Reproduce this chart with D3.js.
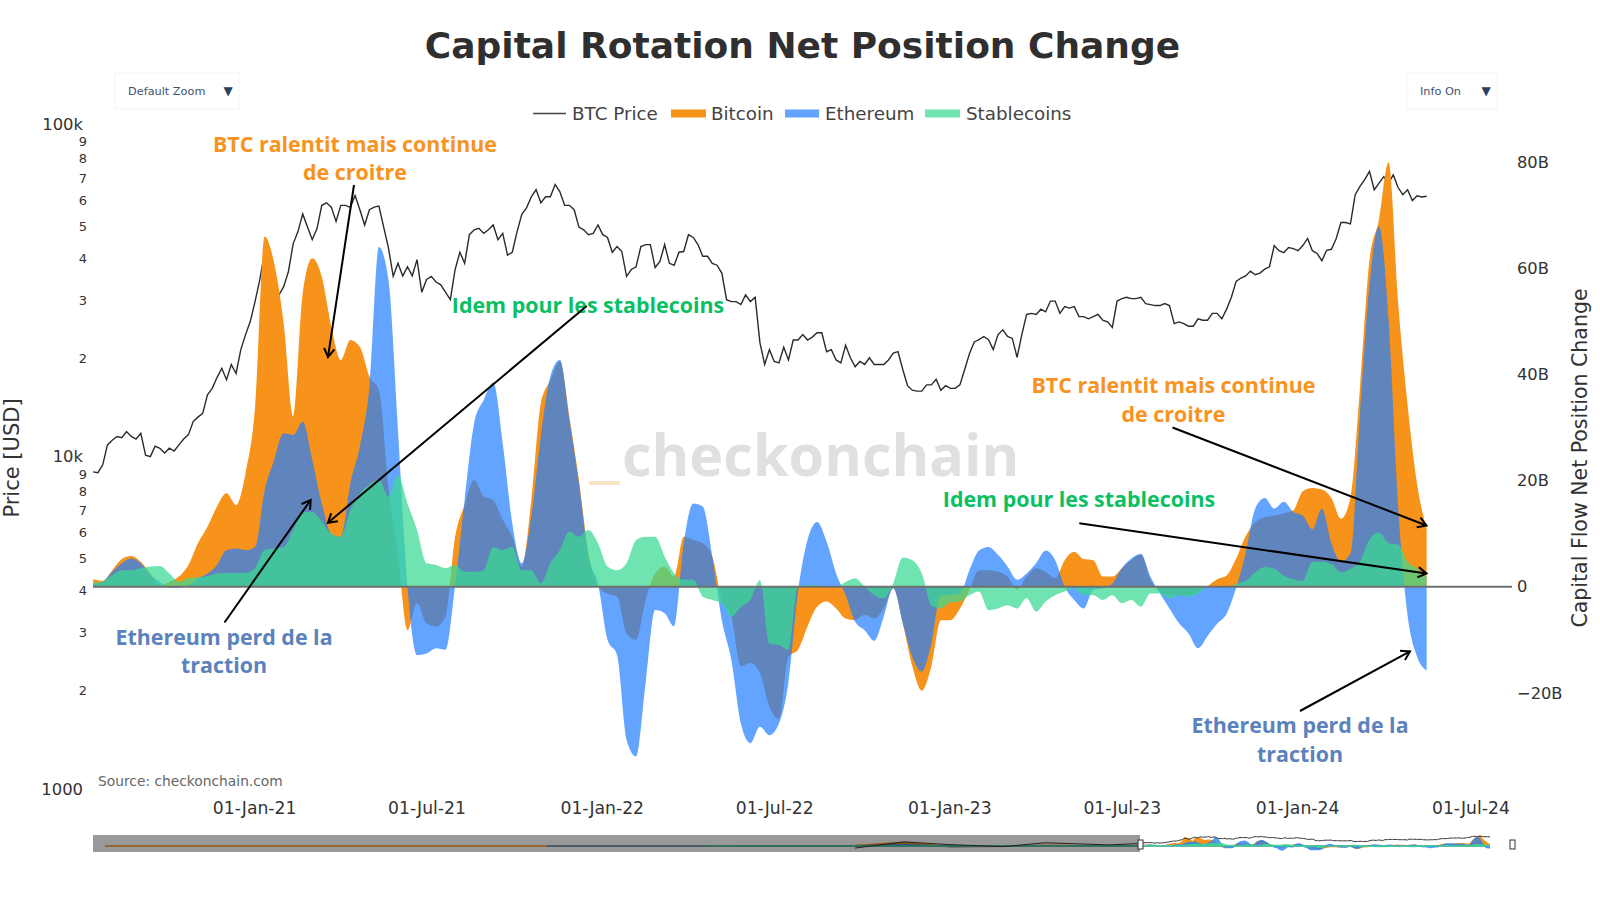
<!DOCTYPE html>
<html>
<head>
<meta charset="utf-8">
<script src="https://cdn.jsdelivr.net/npm/d3@7"></script>
<style>
  body { margin: 0; background: #fff; }
  text { font-family: "DejaVu Sans", sans-serif; }
  .note { font-family: "Open Sans", sans-serif; font-weight: 700; font-size: 21.4px; text-anchor: middle; }
</style>
</head>
<body>
<script>
// BTC price in USD, one value every 5 days from the start date
const priceValues = [
  9000,8950,9450,10850,11200,11500,11400,11900,11500,11300,
  11750,10100,10000,10750,10600,10250,10600,10400,10850,11300,
  11650,12750,13150,13500,15350,16050,17300,18450,17050,18950,
  17800,21000,23300,25550,29350,34150,41250,38400,34150,30650,
  32500,36100,43800,47600,53800,49100,45000,48600,57100,58100,
  56400,51100,57100,57100,56300,61100,55400,49800,55400,56400,
  56800,49100,42500,34900,38200,35000,37300,35000,39200,31250,
  34150,34900,33550,32900,31250,29700,36600,41250,38200,46600,
  48200,48700,47000,48200,49850,45000,47000,40450,41250,47500,
  53650,56100,60600,63700,58100,60600,60600,66000,62700,57100,
  57100,55400,49100,48200,46600,47000,49850,46600,45700,41250,
  42900,41450,34900,36600,37300,42900,43500,43500,37100,38700,
  43500,38200,37700,41250,41450,46600,45700,43500,40100,40100,
  38200,37700,35700,29700,29300,29300,28700,30700,29300,30200,
  22050,18950,21000,19350,19150,21350,19550,22450,22450,23300,
  22450,22900,23600,23600,20700,21000,19550,19150,21650,19850,
  18650,19350,18950,19850,18950,18950,18950,19550,20500,20700,
  18300,16350,15850,15750,15750,16450,16450,17100,15850,16350,
  16050,16050,16450,18300,20400,22150,22500,23000,22500,21000,
  23300,24100,23000,22700,19900,23300,26800,27000,26800,27800,
  27300,29400,29400,27000,28300,28000,28300,26400,26400,26000,
  26400,26800,25750,25450,24500,29400,29900,30200,29900,29900,
  30200,28900,28700,28500,28500,28900,28500,25150,25450,25150,
  24700,24700,26000,25750,25750,27000,27000,26000,27800,30200,
  33700,34500,35000,36200,35300,35700,36700,37300,43200,41700,
  41100,42600,42300,41700,43200,45400,41700,40900,38900,41800,
  42100,45300,50700,50700,50200,61500,65100,68200,72300,63600,
  66600,69700,66600,70500,64600,61500,63600,59000,61000,60500,
  60800
];

// net position change in billions, one value every 10 days from the start date
const bitcoinValues = [
  1.4,1.1,3.1,5.2,5.8,4.7,2.5,0.3,0.9,1.9,
  4.1,8.2,11.3,15.1,17.6,15.4,21.4,33.9,66,61,
  49.6,32,55.3,61.9,58.4,49,42.7,46.5,45.2,39.6,
  37,18.8,5.7,-8.2,-3.1,-6.9,-7.5,-5.6,9.4,15.4,
  20.1,17,16.3,12.6,9.4,3.8,16.3,34.5,38.9,42.5,
  32,20.1,6.3,0,-1.3,-1.9,-8.8,-10,-2.5,2.5,
  3.8,1.9,9.4,8.8,8.2,5.7,-2.5,-5.7,-15,-14.4,
  -16.3,-22.6,-25,-13.2,-11.9,-7.5,-3.8,-2.8,-4.1,-6,
  -6.3,-5.3,-6,-4.1,-0.3,-6.9,-15,-19.6,-15,-6.3,
  -6.3,-4.1,-0.6,3.1,3.1,2.8,1.9,-0.6,1.9,3.5,
  2.8,1.6,5,6.6,5.2,5,1.9,1.9,3.5,5,
  6,1.3,-0.8,-1.6,-1.6,-1.6,-0.9,0.1,1.4,2.1,
  5.3,9.5,12.1,13.1,13.4,13.8,14.4,18,18.6,18.3,
  16.7,12.8,16.7,37.4,61.5,69.2,80,53.7,34.2,19.3,
  11
];
const ethereumValues = [
  0.6,0.9,2.8,4.4,5.3,4.4,2.2,0.9,-0.2,-0.2,
  0.3,1.6,2.5,4.1,6.9,7.2,6.9,7.5,18.2,23.9,
  28.9,28.6,31.1,23.9,15.7,10,9.4,19.5,26.4,37.7,
  64,57.8,29.5,0,-12.9,-12.6,-11.6,-11.9,0.3,16.3,
  30.8,35.2,38.5,27,11.9,4.4,13.2,28.3,39.6,42.7,
  31.4,19.5,5.7,0.6,-10,-12.9,-28.9,-32,-18.2,-4.4,
  -5,-7.5,8.2,15.7,15.1,5.7,-6.3,-13.8,-25.8,-29.5,
  -26.4,-28,-25.8,-18,-1,8.8,12.2,8.5,2.5,-1.6,
  -6.6,-8.2,-10.2,-5.7,-0.3,-6.9,-13.2,-16,-10.7,-1.6,
  -1.6,-1.3,3.1,6.8,7.5,6,3.8,1.3,2.5,4.4,
  6.8,5,0,-2.5,-4.1,-0.6,-0.3,0.6,3.5,5.3,
  6.2,1.9,-1.3,-4.1,-6.9,-8.8,-11.6,-9.3,-7,-5.1,
  -0.2,6.3,14.7,16.7,14.7,16,14.1,13.4,10.8,14.7,
  8.2,4.7,6.3,32.3,56.9,68,50.4,15.4,-5.4,-13.2,
  -15.8
];
const stablecoinValues = [
  0.75,0.94,2.2,3.1,3.1,3.5,3.8,3.9,2.5,0.94,
  1.6,1.8,2,2.5,2.6,2.6,2.6,3.5,6.9,7.2,
  7.5,10.7,14.1,14.1,12.3,10,9.4,14.4,17.6,19.2,
  20.1,17,21,15.7,10.7,4.4,4.1,3.5,4.1,2.8,
  2.8,3.1,7.5,6.9,7.5,3.1,3.1,0.6,4.4,6.9,
  10.4,9.4,10.7,8.2,3.8,3.1,4.4,8.8,9.4,9.4,
  5.7,2.5,1.3,1.3,-1.9,-2.5,-3.1,-5.7,-3.8,-2.5,
  1.2,-10.7,-11,-11.9,0,0.3,0.3,0,0,0.9,
  1.6,0,-1.6,-2.2,0.6,5.5,5,2.5,-3.5,-4.1,
  -3,-2.8,-1.6,-0.9,-4.4,-4.1,-3.5,-4.1,-2.2,-4.7,
  -2.8,-1.6,-0.9,-0.3,-1.6,-1.6,-2.5,-1.6,-3.1,-2.5,
  -3.8,-1.3,-1.3,-2.2,-1.6,-1.9,-1.3,0,0.1,0.1,
  0.5,1.1,2.7,3.7,3.4,2.1,1.4,1.1,4.7,4.7,
  4.3,2.7,3.4,4.7,8.9,10.2,8.2,7.9,4.7,3.4,
  1.8
];

// earlier history, only seen under the range slider mask
const historyDates = ["2009-03-15","2014-01-15","2015-10-15","2017-06-01","2017-12-15","2018-06-15","2019-01-15","2019-07-01","2020-03-15"];
const historyBitcoin = [0,0,0,4,30,-5,-3,6,1];
const historyEthereum = [null,0,0,1,12,-4,-2,1,1];
const historyStablecoin = [null,null,0,0,2,1,0,1,3];
const historyPrice = [null,null,null,2500,14000,6500,3700,11000,6000];

const xTickDates = ["2021-01-01","2021-07-01","2022-01-01","2022-07-01","2023-01-01","2023-07-01","2024-01-01","2024-07-01"];
const priceTicks = [1000,2000,3000,4000,5000,6000,7000,8000,9000,10000,20000,30000,40000,50000,60000,70000,80000,90000,100000];
const flowTicks = [-20,0,20,40,60,80];
const legendNames = ["BTC Price","Bitcoin","Ethereum","Stablecoins"];

const colorBitcoin = "rgb(247,147,26)";
const colorEthereum = "rgba(34,127,255,0.71)";
const colorStablecoin = "rgba(57,217,146,0.72)";

const parseDay = d3.utcParse("%Y-%m-%d");
const startDate = parseDay("2020-07-15");
const priceData = priceValues.map((v, i) => ({ date: d3.utcDay.offset(startDate, i * 5), value: v }));
const toSeries = values => values.map((v, i) => ({ date: d3.utcDay.offset(startDate, i * 10), value: v }));
const bitcoinData = toSeries(bitcoinValues);
const ethereumData = toSeries(ethereumValues);
const stablecoinData = toSeries(stablecoinValues);

const svg = d3.select("body").append("svg").attr("width", 1600).attr("height", 900);

const x = d3.scaleUtc().domain([parseDay("2021-01-01"), parseDay("2024-07-01")]).range([255.1, 1471.4]);
const yPrice = d3.scaleLog().domain([1000, 100000]).range([788.8, 124.5]);
const yFlow = d3.scaleLinear().domain([0, 80]).range([586.7, 162.2]);
const plotLeft = 93, plotRight = 1512;

// title
svg.append("text").attr("x", 802.5).attr("y", 58).attr("text-anchor", "middle")
  .style("font-size", "36px").style("font-weight", "700").style("fill", "#2f2f2f")
  .text("Capital Rotation Net Position Change");

// watermark
svg.append("text").attr("x", 589).attr("y", 476).style("font-family", "Open Sans").style("font-size", "57.5px").style("font-weight", "700").style("fill", "#fbe3c6").attr("textLength", 31).attr("lengthAdjust", "spacingAndGlyphs").text("_");
svg.append("text").attr("x", 622).attr("y", 476).style("font-family", "Open Sans").style("font-size", "57.5px").style("font-weight", "700").style("fill", "#e0e0e0").text("checkonchain");

// drop down buttons
function dropdown(left, right, label) {
  const g = svg.append("g");
  g.append("rect").attr("x", left).attr("y", 73).attr("width", right - left).attr("height", 36)
    .attr("fill", "#fff").attr("stroke", "#f4f4f6");
  g.append("text").attr("x", left + 13).attr("y", 94.5).style("font-size", "11.3px").style("fill", "#3f5273").text(label);
  g.append("text").attr("x", right - 11).attr("y", 94.5).attr("text-anchor", "middle").style("font-size", "12px").style("fill", "#2a3f5f").text("▼");
}
dropdown(115, 239, "Default Zoom");
dropdown(1407, 1497, "Info On");

// legend
const legendY = 113.5;
const legendSwatch = [[533, 566], [671, 706], [785, 819], [925, 960]];
const legendText = [572, 711, 825, 966];
const legendFill = ["#444", colorBitcoin, colorEthereum, colorStablecoin];
legendNames.forEach((name, i) => {
  if (i === 0) {
    svg.append("line").attr("x1", legendSwatch[i][0]).attr("x2", legendSwatch[i][1]).attr("y1", legendY).attr("y2", legendY)
      .attr("stroke", "#444").attr("stroke-width", 1.5);
  } else {
    svg.append("rect").attr("x", legendSwatch[i][0]).attr("y", legendY - 4).attr("width", legendSwatch[i][1] - legendSwatch[i][0]).attr("height", 8)
      .attr("fill", legendFill[i]);
  }
  svg.append("text").attr("x", legendText[i]).attr("y", legendY + 6.5).style("font-size", "18.3px").style("fill", "#444").text(name);
});

// price sits under the areas
const priceLine = d3.line().x(d => x(d.date)).y(d => yPrice(d.value));
svg.append("path").datum(priceData).attr("d", priceLine).attr("fill", "none").attr("stroke", "#2b2b2b").attr("stroke-width", 1.4);

const flowArea = d3.area().curve(d3.curveMonotoneX).x(d => x(d.date)).y0(yFlow(0)).y1(d => yFlow(d.value));
svg.append("path").datum(bitcoinData).attr("d", flowArea).attr("fill", colorBitcoin);
svg.append("path").datum(ethereumData).attr("d", flowArea).attr("fill", colorEthereum);
svg.append("path").datum(stablecoinData).attr("d", flowArea).attr("fill", colorStablecoin);

svg.append("line").attr("x1", plotLeft).attr("x2", plotRight).attr("y1", yFlow(0)).attr("y2", yFlow(0))
  .attr("stroke", "#6f6f6f").attr("stroke-width", 2);

// axes
const formatPrice = v => v === 100000 ? "100k" : v === 10000 ? "10k" : v === 1000 ? "1000" : String(v).charAt(0);
const isMajor = v => v === 100000 || v === 10000 || v === 1000;
const leftAxis = svg.append("g").attr("transform", `translate(${plotLeft},0)`)
  .call(d3.axisLeft(yPrice).tickValues(priceTicks).tickFormat(formatPrice).tickSize(0).tickPadding(6));
leftAxis.select(".domain").remove();
leftAxis.selectAll("text").attr("x", d => isMajor(d) ? -10 : -6).attr("y", d => isMajor(d) ? 0 : 2)
  .style("font-family", "DejaVu Sans").style("font-size", d => isMajor(d) ? "16.4px" : "13px").style("fill", "#333");

const rightAxis = svg.append("g").attr("transform", `translate(${plotRight},0)`)
  .call(d3.axisRight(yFlow).tickValues(flowTicks).tickFormat(v => v === 0 ? "0" : (v < 0 ? "−" : "") + Math.abs(v) + "B").tickSize(0).tickPadding(5));
rightAxis.select(".domain").remove();
rightAxis.selectAll("text").style("font-family", "DejaVu Sans").style("font-size", "16.3px").style("fill", "#333");

const bottomAxis = svg.append("g").attr("transform", "translate(-1,802)")
  .call(d3.axisBottom(x).tickValues(xTickDates.map(parseDay)).tickFormat(d3.utcFormat("%d-%b-%y")).tickSize(0).tickPadding(0));
bottomAxis.select(".domain").remove();
bottomAxis.selectAll("text").style("font-family", "DejaVu Sans").style("font-size", "17.2px").style("fill", "#333");

svg.append("text").attr("transform", "translate(19,458) rotate(-90)").attr("text-anchor", "middle")
  .style("font-size", "21px").style("fill", "#333").text("Price [USD]");
svg.append("text").attr("transform", "translate(1587,458) rotate(-90)").attr("text-anchor", "middle")
  .style("font-size", "20.5px").style("fill", "#333").text("Capital Flow Net Position Change");
svg.append("text").attr("x", 98).attr("y", 786).style("font-size", "13.8px").style("fill", "#666").text("Source: checkonchain.com");

// range slider
const sliderX = d3.scaleUtc().domain([startDate, d3.utcDay.offset(startDate, 1400)]).range([1140, 1490]);
const sliderFlow = d3.scaleLinear().domain([0, 80]).range([846, 836]);
const sliderPrice = d3.scaleLog().domain([9000, 65000]).range([843.5, 836.5]);
svg.append("clipPath").attr("id", "sliderClip").append("rect").attr("x", 93).attr("y", 835).attr("width", 1397).attr("height", 17);
const slider = svg.append("g").attr("clip-path", "url(#sliderClip)");
const withHistory = (values, data) => historyDates.map((d, i) => ({ date: parseDay(d), value: values[i] })).filter(d => d.value !== null).concat(data);
const sliderArea = d3.area().x(d => sliderX(d.date)).y0(sliderFlow(0)).y1(d => sliderFlow(d.value));
const sliderSeries = [
  [withHistory(historyBitcoin, bitcoinData), colorBitcoin],
  [withHistory(historyEthereum, ethereumData), colorEthereum],
  [withHistory(historyStablecoin, stablecoinData), colorStablecoin]
];
sliderSeries.forEach(s => {
  slider.append("path").datum(s[0]).attr("d", sliderArea).attr("fill", s[1]).attr("stroke", s[1]).attr("stroke-width", 1.5);
});
slider.append("path").datum(withHistory(historyPrice, priceData))
  .attr("d", d3.line().x(d => sliderX(d.date)).y(d => sliderPrice(d.value)))
  .attr("fill", "none").attr("stroke", "#333").attr("stroke-width", 1);
svg.append("rect").attr("x", 93).attr("y", 835).attr("width", 1047).attr("height", 17).attr("fill", "#000").attr("opacity", 0.4);
svg.append("rect").attr("x", 1138).attr("y", 840).attr("width", 5).attr("height", 9).attr("fill", "#fff").attr("stroke", "#333");
svg.append("rect").attr("x", 1510).attr("y", 840).attr("width", 5).attr("height", 9).attr("fill", "#fff").attr("stroke", "#333");

// annotations, in page pixels
const notes = [
  { text: ["BTC ralentit mais continue", "de croitre"], cx: 355, y: [151.5, 180], color: "#f7931e" },
  { text: ["Idem pour les stablecoins"], cx: 588, y: [313], color: "#0abf64" },
  { text: ["Ethereum perd de la", "traction"], cx: 224, y: [644.5, 673], color: "#5b82bc" },
  { text: ["BTC ralentit mais continue", "de croitre"], cx: 1173.5, y: [393, 422], color: "#f7931e" },
  { text: ["Idem pour les stablecoins"], cx: 1079, y: [507], color: "#0abf64" },
  { text: ["Ethereum perd de la", "traction"], cx: 1300, y: [733, 762], color: "#5b82bc" }
];
const arrows = [
  [354, 185, 328, 357],
  [586.7, 306, 328, 522.7],
  [224.5, 622.5, 310.7, 500],
  [1172.5, 427.5, 1426.5, 525.5],
  [1079.3, 523.3, 1426.5, 573.5],
  [1300, 711, 1410, 651.4]
];
notes.forEach(n => {
  n.text.forEach((t, i) => {
    svg.append("text").attr("class", "note").attr("x", n.cx).attr("y", n.y[i]).style("fill", n.color).text(t);
  });
});
arrows.forEach(a => {
  const angle = Math.atan2(a[3] - a[1], a[2] - a[0]);
  const head = 10;
  const wing = s => [a[2] - head * Math.cos(angle + s * 0.55), a[3] - head * Math.sin(angle + s * 0.55)];
  svg.append("line").attr("x1", a[0]).attr("y1", a[1]).attr("x2", a[2]).attr("y2", a[3])
    .attr("stroke", "#000").attr("stroke-width", 2);
  svg.append("path").attr("d", d3.line()([wing(1), [a[2], a[3]], wing(-1)]))
    .attr("fill", "none").attr("stroke", "#000").attr("stroke-width", 2);
});
</script>
</body>
</html>
